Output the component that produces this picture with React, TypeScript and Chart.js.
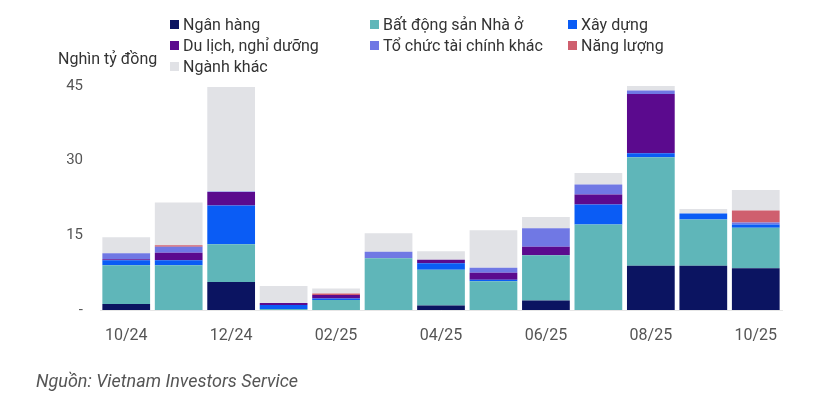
import React, { useEffect, useRef } from "react";
import { Chart, registerables } from "chart.js";

Chart.register(...registerables);

const categories = ["10/24", "11/24", "12/24", "01/25", "02/25", "03/25", "04/25", "05/25", "06/25", "07/25", "08/25", "09/25", "10/25"];
const nganHang = [1.2, 0, 5.6, 0, 0, 0, 0.9, 0, 1.9, 0, 8.9, 8.9, 8.4];
const batDongSan = [7.8, 9.0, 7.6, 0.2, 2.0, 10.4, 7.2, 5.8, 9.1, 17.2, 21.8, 9.3, 8.1];
const xayDung = [1.0, 1.0, 7.8, 0.8, 0.3, 0, 1.3, 0.3, 0, 4.0, 0.8, 1.2, 0.7];
const duLich = [0.2, 1.5, 2.7, 0.4, 0.7, 0, 0.7, 1.4, 1.7, 2.0, 11.9, 0, 0];
const toChucTaiChinh = [1.2, 1.2, 0.1, 0, 0, 1.3, 0, 1.0, 3.7, 2.0, 0.7, 0, 0.4];
const nangLuong = [0, 0.3, 0, 0, 0.3, 0, 0, 0, 0, 0, 0, 0, 2.4];
const nganhKhac = [3.2, 8.6, 21.0, 3.4, 1.0, 3.7, 1.7, 7.5, 2.3, 2.3, 0.9, 0.9, 4.1];
const yTicks = [0, 15, 30, 45];

const seriesNames = ["Ngân hàng", "Bất động sản Nhà ở", "Xây dựng", "Du lịch, nghỉ dưỡng", "Tổ chức tài chính khác", "Năng lượng", "Ngành khác"];
const seriesColors = ["#0b1461", "#5fb6b9", "#0a5cf5", "#5b0a8e", "#7078e4", "#cf5f6e", "#e1e2e6"];
const seriesData = [nganHang, batDongSan, xayDung, duLich, toChucTaiChinh, nangLuong, nganhKhac];

const FONT = "Roboto, 'Noto Sans', sans-serif";

// legend grid: rows then columns
const legendOrder = [[0, 1, 2], [3, 4, 5], [6]];
const legendCols = [170, 370, 568];
const legendRows = [14, 35, 56];

export default function App() {
  const ref = useRef<HTMLCanvasElement | null>(null);

  useEffect(() => {
    if (!ref.current) return;
    const chart = new Chart(ref.current, {
      type: "bar",
      data: {
        labels: categories,
        datasets: seriesData.map((d, i) => ({
          label: seriesNames[i],
          data: d,
          backgroundColor: seriesColors[i],
          borderWidth: 0,
          categoryPercentage: 1,
          barPercentage: 0.91,
        })),
      },
      options: {
        animation: false,
        responsive: false,
        maintainAspectRatio: false,
        layout: { padding: { top: 86, right: 44, left: 0, bottom: 0 } },
        plugins: { legend: { display: false }, tooltip: { enabled: false }, title: { display: false } },
        scales: {
          x: {
            stacked: true,
            grid: { display: false },
            border: { display: true, color: "#e6e6e6" },
            ticks: {
              autoSkip: false,
              maxRotation: 0,
              padding: 8,
              color: "#555",
              font: { family: FONT, size: 16 },
              callback: (_v: any, i: number) => (i % 2 === 0 ? categories[i] : ""),
            },
            afterFit: (s: any) => {
              s.height = 91;
            },
          },
          y: {
            stacked: true,
            min: 0,
            max: 45,
            grid: { display: false, drawTicks: false },
            border: { display: false },
            afterBuildTicks: (s: any) => {
              s.ticks = yTicks.map((v) => ({ value: v }));
            },
            ticks: {
              padding: 17,
              color: "#555",
              font: { family: FONT, size: 15 },
              callback: (v: any) => (v === 0 ? "-" : String(v)),
            },
            afterFit: (s: any) => {
              s.width = 100;
            },
          },
        },
      },
    });
    return () => chart.destroy();
  }, []);

  return (
    <div style={{ position: "fixed", left: 0, top: 0, width: 826, height: 401, background: "#fff", fontFamily: FONT }}>
      <canvas ref={ref} width={826} height={401} style={{ position: "absolute", left: 0, top: 0, width: 826, height: 401 }} />
      {legendOrder.map((row, r) =>
        row.map((idx, c) => (
          <div
            key={idx}
            style={{ position: "absolute", left: legendCols[c], top: legendRows[r], height: 20, display: "flex", alignItems: "center", fontSize: 16, color: "#333", whiteSpace: "nowrap" }}
          >
            <span style={{ display: "inline-block", width: 9, height: 9, background: seriesColors[idx], marginRight: 4 }} />
            {seriesNames[idx]}
          </div>
        ))
      )}
      <div style={{ position: "absolute", left: 58, top: 49, fontSize: 16, color: "#333", whiteSpace: "nowrap" }}>Nghìn tỷ đồng</div>
      <div style={{ position: "absolute", left: 36, top: 370, fontSize: 18, color: "#555", fontStyle: "italic", whiteSpace: "nowrap" }}>
        Nguồn: Vietnam Investors Service
      </div>
    </div>
  );
}
